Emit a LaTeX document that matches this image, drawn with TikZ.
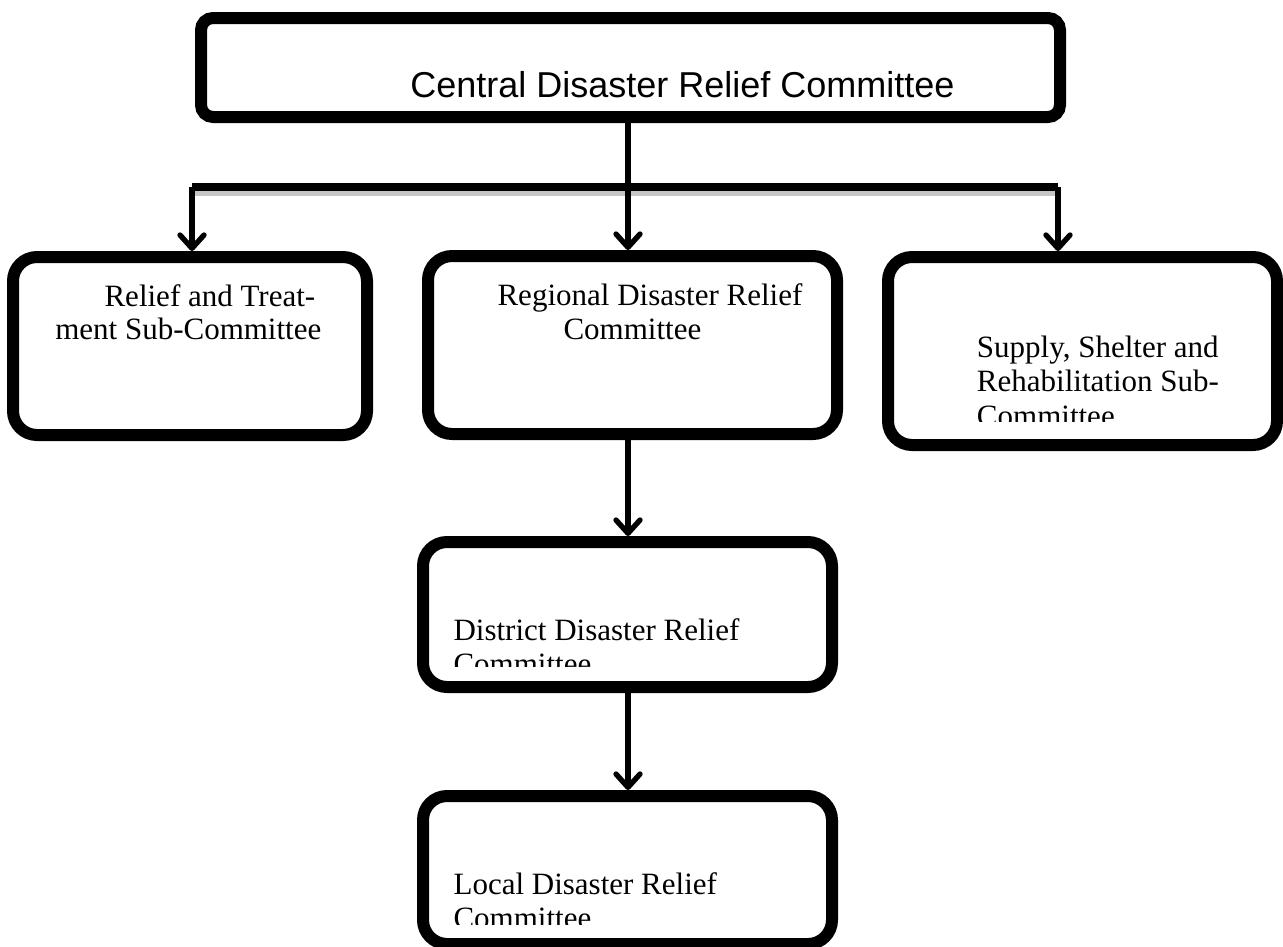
\documentclass[tikz,border=0pt]{standalone}
\usepackage{fontspec}
\setmainfont{Liberation Serif}
\newfontfamily\arialf{Liberation Sans}
\usetikzlibrary{arrows.meta}
\begin{document}
\begin{tikzpicture}[x=0.75pt,y=-0.75pt,
  box/.style={draw=black, line width=9pt, rounded corners=18pt, fill=white, inner sep=0pt},
  conn/.style={line width=4pt, draw=black},
  arr/.style={conn, -{Straight Barb[length=10pt,width=18pt,round]}},
  lbl/.style={anchor=base west, inner sep=0pt, font=\fontsize{23.25}{25}\selectfont}
]
\useasboundingbox (0,0) rectangle (1283,947);

% boxes
\node[box, rounded corners=9pt, minimum width=644.25pt, minimum height=74.25pt] (top) at (630.5,67.5) {};
\node[box, minimum width=265.5pt, minimum height=133.5pt] (lbox) at (190,346) {};
\node[box, minimum width=306.75pt, minimum height=133.5pt] (mbox) at (632.5,345) {};
\node[box, minimum width=291.75pt, minimum height=141pt] (rbox) at (1082.5,351) {};
\node[box, minimum width=306.75pt, minimum height=108.75pt] (dbox) at (627.5,614.5) {};
\node[box, minimum width=306.75pt, minimum height=111pt] (locbox) at (627.5,870) {};

% texts
\node[anchor=base west, inner sep=0pt, font=\arialf\fontsize{27}{30}\selectfont] (ttop) at (410,97) {Central Disaster Relief Committee};

\node[lbl] (l1) at (104.3,306) {Relief and Treat-};
\node[lbl] (l2) at (55,339.3) {ment Sub-Committee};

\node[lbl] (m1) at (497.3,305) {Regional Disaster Relief};
\node[lbl] (m2) at (563.3,339) {Committee};

\node[lbl] (r1) at (976.7,357.3) {Supply, Shelter and};
\node[lbl] (r2) at (976.7,391.7) {Rehabilitation Sub-};
\begin{scope}
  \clip (900,398) rectangle (1260,421.7);
  \node[lbl] (r3) at (976.7,426) {Committee};
\end{scope}

\node[lbl] (d1) at (453.3,640) {District Disaster Relief};
\begin{scope}
  \clip (440,648) rectangle (800,666.7);
  \node[lbl] (d2) at (453.3,674) {Committee};
\end{scope}

\node[lbl] (c1) at (453.3,894) {Local Disaster Relief};
\begin{scope}
  \clip (440,900) rectangle (800,924);
  \node[lbl] (c2) at (453.3,928) {Committee};
\end{scope}

% distribution bar
\coordinate (bL) at (192,187);
\coordinate (bM) at (628,187);
\coordinate (bR) at (1058,187);
\coordinate (ax) at (628,0);
\fill[gray!45] (191,190.7) rectangle (1057,196);
\draw[line width=5.5pt] (bL) -- (bR);

% connectors
\draw[conn] (top.south -| bM) -- (bM);
\draw[arr] (bL) -- (bL |- lbox.north);
\draw[arr] (bM) -- (bM |- mbox.north);
\draw[arr] (bR) -- (bR |- rbox.north);
\draw[arr] (mbox.south -| ax) -- (dbox.north -| ax);
\draw[arr] (dbox.south -| ax) -- (locbox.north -| ax);
\end{tikzpicture}
\end{document}
